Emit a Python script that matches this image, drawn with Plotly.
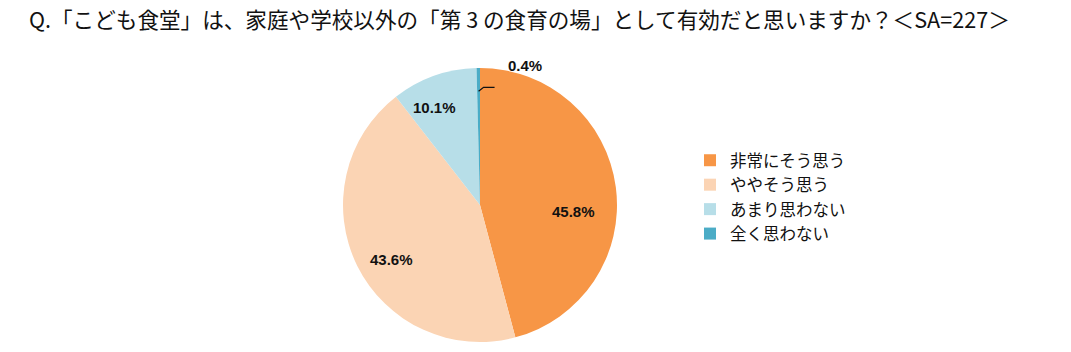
import math
import plotly.graph_objects as go

categories = ["非常にそう思う", "ややそう思う", "あまり思わない", "全く思わない"]
values = [45.8, 43.6, 10.1, 0.4]
colors = ["#F79646", "#FBD4B4", "#B7DEE8", "#4BACC6"]
title_text = "Q.「こども食堂」は、家庭や学校以外の「第 3 の食育の場」として有効だと思いますか？＜SA=227＞"

W, H = 1071, 352
cx, cy, r = 480, 205, 137

def px(x):
    return x / W

def py(y):
    return 1 - y / H

fig = go.Figure(go.Pie(
    labels=categories,
    values=values,
    sort=False,
    direction="clockwise",
    rotation=0,
    marker=dict(colors=colors, line=dict(width=0)),
    textinfo="none",
    hole=0,
    domain=dict(x=[(cx - r) / W, (cx + r) / W], y=[(H - cy - r) / H, (H - cy + r) / H]),
))

label_font = dict(family="Liberation Sans, Arial", size=15, color="#111111", weight="bold")

# data labels placed from the slice mid-angles
total = sum(values)
annotations = []
shapes = []
cum = 0.0
# per-slice placement tweak (radius factor, pixel nudge) to mimic best-fit labels
place = [(0.70, -2, 19), (0.80, 10, 6), (0.78, -10, 3), (None, 0, 0)]
for i, v in enumerate(values):
    mid = (cum + v / 2) / total * 2 * math.pi
    cum += v
    txt = f"{v:.1f}%"
    k, dx, dy = place[i]
    if k is not None:
        x = cx + k * r * math.sin(mid) + dx
        y = cy - k * r * math.cos(mid) + dy
        annotations.append(dict(text=txt, x=px(x), y=py(y), xref="paper", yref="paper",
                                xanchor="center", yanchor="middle", showarrow=False,
                                font=label_font))
    else:
        # small slice: outside label with a short leader line
        sx = cx + 0.83 * r * math.sin(mid)
        sy = cy - 0.83 * r * math.cos(mid)
        path = (f"M {px(sx)},{py(sy)} L {px(sx + 5)},{py(sy - 4)} "
                f"L {px(sx + 16)},{py(sy - 4)}")
        shapes.append(dict(type="path", xref="paper", yref="paper", path=path,
                           line=dict(color="#111111", width=1.2)))
        ex = cx + r * math.sin(mid)
        ey = cy - r * math.cos(mid)
        annotations.append(dict(text=txt, x=px(ex + 47), y=py(ey - 3), xref="paper", yref="paper",
                                xanchor="center", yanchor="middle", showarrow=False,
                                font=label_font))

annotations.append(dict(
    text=title_text, x=px(27), y=py(19), xref="paper", yref="paper",
    xanchor="left", yanchor="middle", showarrow=False,
    font=dict(family="Noto Sans CJK JP", size=21.6, color="#111111"),
))

fig.update_layout(
    width=W, height=H,
    margin=dict(l=0, r=0, t=0, b=0),
    paper_bgcolor="white",
    plot_bgcolor="white",
    showlegend=True,
    legend=dict(
        x=px(690), y=py(197), xanchor="left", yanchor="middle",
        font=dict(family="Noto Sans CJK JP", size=16.5, color="#111111"),
        traceorder="normal",
    ),
    annotations=annotations,
    shapes=shapes,
)

fig.write_html("out.html")
